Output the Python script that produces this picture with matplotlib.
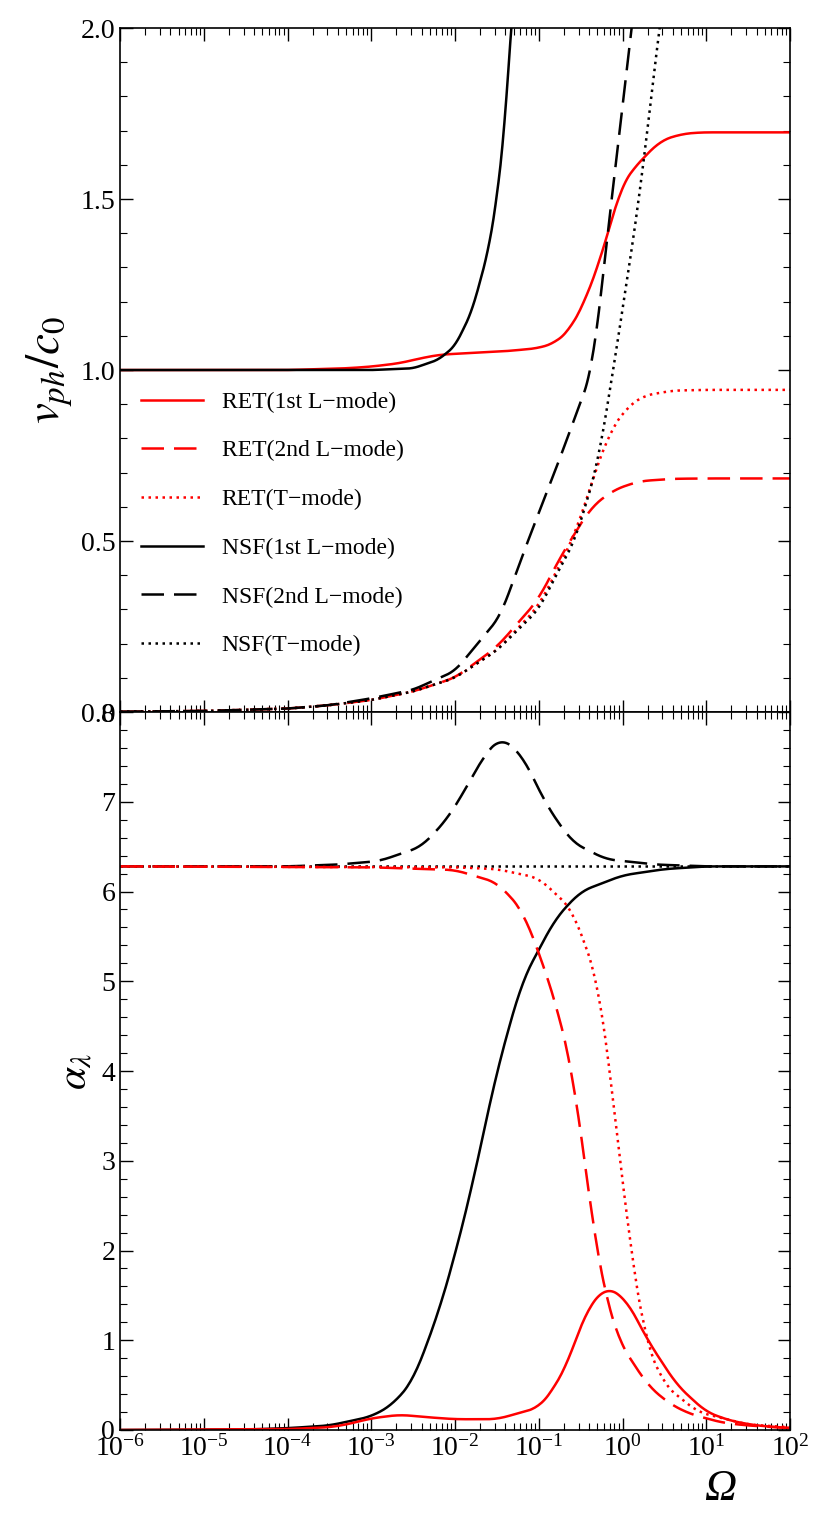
import numpy as np
import matplotlib
matplotlib.use("Agg")
import matplotlib.pyplot as plt
from matplotlib.ticker import LogLocator, NullFormatter, MultipleLocator

plt.rcParams["font.family"] = "Liberation Serif"
plt.rcParams["mathtext.fontset"] = "stix"

# ---- top panel: v_ph/c0 (x = log10 Omega)
ret1_x = [-6, -4, -3.3, -3, -2.66, -2.4, -2.18, -1.8, -1.4, -1.0, -0.8, -0.63, -0.45, -0.27, -0.15, -0.03, 0.1, 0.21, 0.45, 0.7, 0.93, 2]
ret1_y = [1.0, 1.0, 1.005, 1.01, 1.02, 1.035, 1.045, 1.05, 1.055, 1.064, 1.08, 1.117, 1.2, 1.32, 1.42, 1.53, 1.58, 1.61, 1.67, 1.69, 1.695, 1.695]
nsf1_x = [-6, -3, -2.5, -2.2, -2.0, -1.8, -1.6, -1.5, -1.4, -1.33, -1.28]
nsf1_y = [1.0, 1.0, 1.005, 1.03, 1.07, 1.17, 1.35, 1.5, 1.72, 2.0, 2.2]
nsf2_x = [-6, -5, -4, -3.5, -3, -2.5, -2, -1.46, -1.13, -0.75, -0.36, -0.13, 0.11, 0.25]
nsf2_y = [0.001, 0.003, 0.01, 0.02, 0.04, 0.065, 0.12, 0.28, 0.5, 0.74, 1.0, 1.5, 2.0, 2.3]
nsfT_x = [-6, -5, -4, -3.5, -3, -2.5, -2, -1.5, -1.0, -0.75, -0.57, -0.3, -0.11, 0.2, 0.44, 0.6]
nsfT_y = [0.001, 0.003, 0.01, 0.02, 0.035, 0.06, 0.1, 0.18, 0.3, 0.42, 0.5, 0.72, 1.0, 1.5, 2.0, 2.3]
ret2_x = [-6, -5, -4, -3.5, -3, -2.5, -2, -1.5, -1.0, -0.75, -0.55, -0.37, -0.1, 0.2, 0.6, 1.0, 2]
ret2_y = [0.001, 0.003, 0.01, 0.02, 0.035, 0.06, 0.1, 0.19, 0.33, 0.45, 0.53, 0.6, 0.65, 0.675, 0.682, 0.683, 0.683]
retT_x = [-6, -5, -4, -3.5, -3, -2.5, -2, -1.5, -1.0, -0.75, -0.55, -0.33, -0.15, 0.05, 0.25, 0.6, 1.0, 2]
retT_y = [0.001, 0.003, 0.01, 0.02, 0.035, 0.06, 0.1, 0.18, 0.31, 0.43, 0.53, 0.7, 0.82, 0.89, 0.925, 0.94, 0.942, 0.942]

# ---- bottom panel: alpha_lambda
b_nsf2_x = [-6, -4, -3.4, -2.9, -2.4, -2.1, -1.9, -1.65, -1.45, -1.2, -0.9, -0.6, -0.2, 0.4, 1, 2]
b_nsf2_y = [6.28, 6.28, 6.3, 6.34, 6.5, 6.8, 7.1, 7.52, 7.72, 7.52, 6.95, 6.55, 6.36, 6.3, 6.28, 6.28]
b_nsfT_x = [-6, 2]
b_nsfT_y = [6.28, 6.28]
b_ret2_x = [-6, -3, -2, -1.5, -1.2, -0.95, -0.75, -0.6, -0.45, -0.33, -0.2, -0.05, 0.3, 0.55, 0.8, 1.2, 1.5, 2]
b_ret2_y = [6.28, 6.27, 6.24, 6.1, 5.8, 5.2, 4.6, 4.0, 3.0, 2.1, 1.5, 1.0, 0.5, 0.3, 0.18, 0.08, 0.05, 0.02]
b_retT_x = [-6, -2, -1.5, -1.0, -0.6, -0.29, -0.15, -0.03, 0.1, 0.27, 0.5, 0.9, 1.5, 2]
b_retT_y = [6.28, 6.27, 6.25, 6.15, 5.8, 5.0, 4.0, 3.0, 2.0, 1.0, 0.5, 0.2, 0.06, 0.03]
b_nsf1_x = [-6, -4.5, -4, -3.5, -3.0, -2.75, -2.5, -2.2, -2.0, -1.8, -1.5, -1.2, -0.8, -0.5, 0, 0.5, 1, 2]
b_nsf1_y = [0.0, 0.005, 0.02, 0.05, 0.15, 0.28, 0.55, 1.3, 1.95, 2.7, 4.0, 5.0, 5.7, 6.0, 6.18, 6.25, 6.28, 6.28]
b_ret1_x = [-6, -4, -3.5, -3.3, -3.0, -2.66, -2.3, -2.0, -1.5, -1.0, -0.85, -0.65, -0.45, -0.2, 0.05, 0.3, 0.65, 1.0, 1.3, 1.6, 2]
b_ret1_y = [0.0, 0.01, 0.03, 0.06, 0.13, 0.17, 0.14, 0.12, 0.12, 0.25, 0.42, 0.75, 1.3, 1.6, 1.45, 1.0, 0.5, 0.2, 0.1, 0.05, 0.02]

def smooth(xs, ys, n=400):
    xs = np.asarray(xs, float); ys = np.asarray(ys, float)
    t = np.linspace(xs[0], xs[-1], n)
    y = np.interp(t, xs, ys)
    k = 6
    yp = np.convolve(np.pad(y, k, mode="edge"), np.ones(2*k+1)/(2*k+1), mode="same")[k:-k]
    return 10**t, yp

fig = plt.figure(figsize=(8.3, 15.25), dpi=100)
ax1 = fig.add_axes([0.1446, 0.5331, 0.8072, 0.4485])
ax2 = fig.add_axes([0.1446, 0.0623, 0.8072, 0.4708])

lw = 1.8
dash = (0, (9, 4))
dot = (0, (1, 1.8))
ax1.plot(*smooth(ret1_x, ret1_y), color="red", lw=lw, label="RET(1st L\u2212mode)")
ax1.plot(*smooth(ret2_x, ret2_y), color="red", lw=lw, ls=dash, label="RET(2nd L\u2212mode)")
ax1.plot(*smooth(retT_x, retT_y), color="red", lw=lw, ls=dot, label="RET(T\u2212mode)")
ax1.plot(*smooth(nsf1_x, nsf1_y), color="black", lw=lw, label="NSF(1st L\u2212mode)")
ax1.plot(*smooth(nsf2_x, nsf2_y), color="black", lw=lw, ls=dash, label="NSF(2nd L\u2212mode)")
ax1.plot(*smooth(nsfT_x, nsfT_y), color="black", lw=lw, ls=dot, label="NSF(T\u2212mode)")

ax2.plot(*smooth(b_nsf2_x, b_nsf2_y), color="black", lw=lw, ls=dash)
ax2.plot(10**np.array(b_nsfT_x, float), b_nsfT_y, color="black", lw=lw, ls=dot)
ax2.plot(*smooth(b_nsf1_x, b_nsf1_y), color="black", lw=lw)
ax2.plot(*smooth(b_retT_x, b_retT_y), color="red", lw=lw, ls=dot)
ax2.plot(*smooth(b_ret2_x, b_ret2_y), color="red", lw=lw, ls=dash)
ax2.plot(*smooth(b_ret1_x, b_ret1_y), color="red", lw=lw)

for ax in (ax1, ax2):
    ax.set_xscale("log")
    ax.set_xlim(1e-6, 1e2)
    ax.xaxis.set_major_locator(LogLocator(base=10, numticks=20))
    ax.xaxis.set_minor_locator(LogLocator(base=10, subs=np.arange(2, 10), numticks=200))
    ax.xaxis.set_minor_formatter(NullFormatter())
    ax.tick_params(which="both", direction="in", top=True, right=True, labelsize=20)
    ax.tick_params(which="major", length=9, width=1)
    ax.tick_params(which="minor", length=5, width=0.8)
    for s in ax.spines.values():
        s.set_linewidth(1.2)

ax1.set_ylim(0, 2.0)
ax1.yaxis.set_major_locator(MultipleLocator(0.5))
ax1.yaxis.set_minor_locator(MultipleLocator(0.1))
ax1.yaxis.set_major_formatter(matplotlib.ticker.FormatStrFormatter("%.1f"))
ax1.tick_params(axis="x", labelbottom=False)
ax1.set_ylabel(r"$v_{ph}/c_0$", fontsize=34)

ax2.set_ylim(0, 8)
ax2.yaxis.set_major_locator(MultipleLocator(1))
ax2.yaxis.set_minor_locator(MultipleLocator(0.2))
ax2.set_ylabel(r"$\alpha_\lambda$", fontsize=30)
ax2.set_xlabel("\u03a9", fontsize=32, fontstyle="italic", loc="right", labelpad=0)
ax2.xaxis.set_label_coords(0.92, -0.055)

leg = ax1.legend(loc="upper left", bbox_to_anchor=(0.0, 0.5), frameon=False,
                 fontsize=17, handlelength=2.6, labelspacing=1.15)

fig.savefig("out.png", dpi=100)
